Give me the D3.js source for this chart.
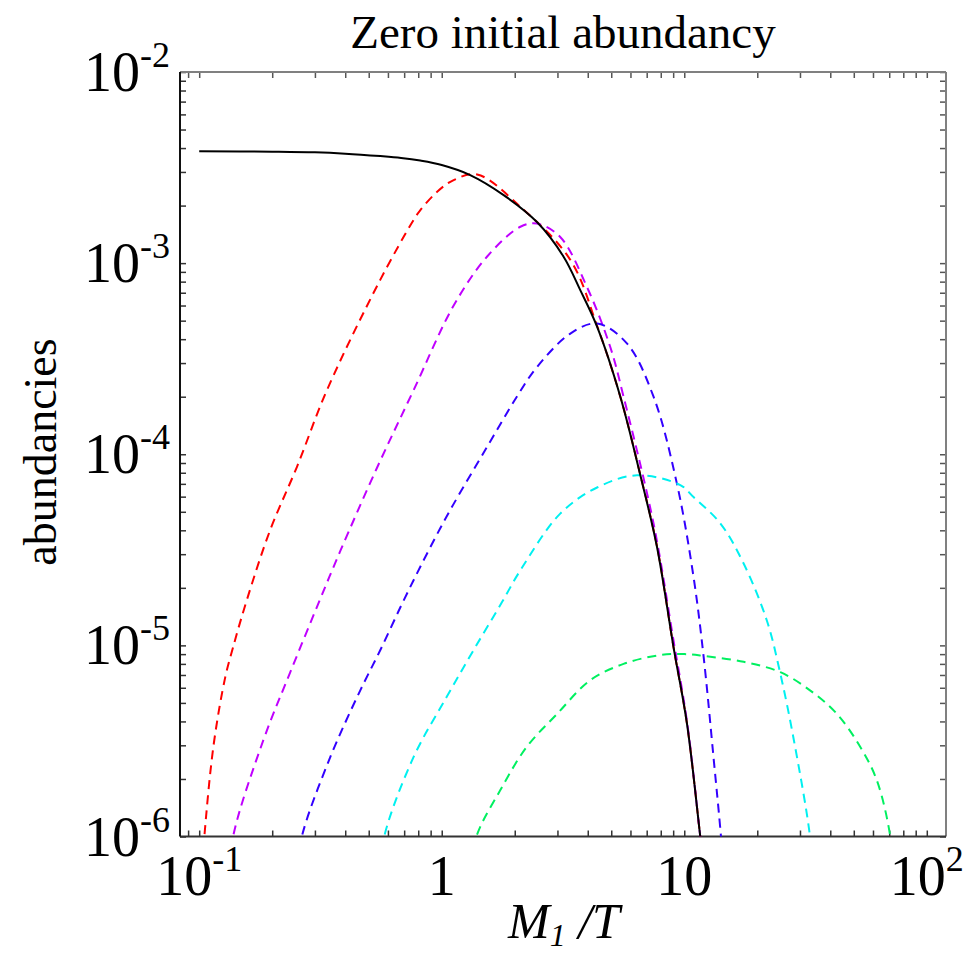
<!DOCTYPE html>
<html>
<head>
<meta charset="utf-8">
<script src="https://cdn.jsdelivr.net/npm/d3@7"></script>
<style>
  body { margin: 0; background: #fff; }
  text { font-family: "Liberation Serif", "Times New Roman", serif; fill: #000; }
</style>
</head>
<body>
<div id="chart"></div>
<script>
// data (x = M1/T, y = abundancy)
var blackX = [0.1, 0.2, 0.3, 0.4, 0.558, 0.68, 0.815, 1.0, 1.31, 1.8, 2.47, 3.18, 3.73, 4.37, 5.45, 6.59, 7.72, 9.03, 10.26, 11.64, 12.2];
var blackY = [3.85e-3, 3.83e-3, 3.8e-3, 3.74e-3, 3.63e-3, 3.55e-3, 3.44e-3, 3.26e-3, 2.89e-3, 2.27e-3, 1.64e-3, 1.08e-3, 7.2e-4, 4.65e-4, 2.0e-4, 7.76e-5, 3.27e-5, 9.8e-6, 3.9e-6, 1.0e-6, 6e-7];

var redX = [0.102, 0.105, 0.1146, 0.128, 0.138, 0.157, 0.196, 0.253, 0.336, 0.557, 0.765, 0.815, 0.96, 1.12, 1.40, 2.11, 3.39, 4.37, 5.45, 6.59, 7.72, 9.03, 10.26, 11.64, 12.2];
var redY = [6e-7, 1.0e-6, 3.0e-6, 6.8e-6, 9.8e-6, 1.72e-5, 4.0e-5, 8.6e-5, 2.16e-4, 8.15e-4, 1.68e-3, 1.89e-3, 2.37e-3, 2.72e-3, 2.91e-3, 1.97e-3, 1.04e-3, 4.7e-4, 2.0e-4, 7.8e-5, 3.3e-5, 9.8e-6, 3.9e-6, 1.0e-6, 6e-7];

var magX = [0.133, 0.138, 0.184, 0.237, 0.315, 0.381, 0.541, 0.765, 1.12, 1.536, 2.11, 2.47, 3.08, 3.97, 4.95, 5.62, 7.47, 9.03, 10.26, 11.64, 12.2];
var magY = [6e-7, 1.0e-6, 3.2e-6, 7.2e-6, 1.74e-5, 3.1e-5, 8.5e-5, 2.16e-4, 6.0e-4, 1.08e-3, 1.55e-3, 1.61e-3, 1.37e-3, 7.5e-4, 3.65e-4, 2.0e-4, 4.34e-5, 1.06e-5, 4.0e-6, 1.0e-6, 6e-7];

var blueX = [0.25, 0.265, 0.347, 0.461, 0.557, 0.686, 0.815, 0.986, 1.12, 1.536, 2.04, 2.47, 3.39, 4.37, 5.80, 7.47, 9.33, 10.92, 12.02, 13.2, 14.17, 14.6];
var blueY = [6e-7, 1.0e-6, 2.6e-6, 5.8e-6, 9.4e-6, 1.65e-5, 2.57e-5, 4.1e-5, 5.5e-5, 1.09e-4, 2.0e-4, 2.86e-4, 4.28e-4, 4.83e-4, 3.8e-4, 2.0e-4, 7.0e-5, 2.28e-5, 8.7e-6, 2.6e-6, 1.0e-6, 6e-7];

var cyanX = [0.55, 0.579, 0.765, 1.05, 1.35, 1.77, 2.11, 3.08, 4.37, 6.38, 9.63, 10.92, 14.1, 17.57, 21.9, 24.9, 28.3, 33.0, 34.0];
var cyanY = [6e-7, 1.0e-6, 2.6e-6, 5.4e-6, 9.4e-6, 1.68e-5, 2.47e-5, 4.89e-5, 6.7e-5, 7.76e-5, 6.9e-5, 5.97e-5, 4.34e-5, 2.68e-5, 1.35e-5, 7.1e-6, 3.2e-6, 1.0e-6, 6e-7];

var greenX = [1.3, 1.39, 1.74, 2.24, 2.99, 4.09, 5.62, 7.96, 10.0, 12.02, 17.57, 24.9, 33.1, 42.6, 53.2, 62.3, 70.7, 73.0];
var greenY = [6e-7, 1.0e-6, 1.74e-6, 2.94e-6, 4.38e-6, 6.56e-6, 8.0e-6, 8.9e-6, 9.0e-6, 8.8e-6, 8.2e-6, 7.24e-6, 5.8e-6, 4.38e-6, 2.94e-6, 1.96e-6, 1.0e-6, 6e-7];

var seriesNames = ["red", "magenta", "blue", "cyan", "green", "black"];
var seriesColors = ["#ff0000", "#c000ff", "#3300ff", "#00f0f0", "#00f060", "#000000"];

var xMajor = [0.1, 1, 10, 100];
var xLabels = [["10", "-1"], ["1", ""], ["10", ""], ["10", "2"]];
var yMajor = [1e-6, 1e-5, 1e-4, 1e-3, 1e-2];
var yLabels = [["10", "-6"], ["10", "-5"], ["10", "-4"], ["10", "-3"], ["10", "-2"]];

var width = 980;
var height = 955;
var plotLeft = 180, plotRight = 946, plotTop = 72, plotBottom = 836.5;

var svg = d3.select("#chart").append("svg")
  .attr("width", width)
  .attr("height", height);

var xScale = d3.scaleLog().domain([1 / 12, 120]).range([plotLeft, plotRight]);
var yScale = d3.scaleLog().domain([1e-6, 1e-2]).range([plotBottom, plotTop]);

// minor ticks 1..9 per decade
var xTicks = [];
for (var e = -2; e <= 2; e++) {
  for (var m = 1; m <= 9; m++) {
    var v = m * Math.pow(10, e);
    if (v >= 1 / 12 && v <= 120) xTicks.push(v);
  }
}
var yTicks = [];
for (var e = -6; e <= -3; e++) {
  for (var m = 1; m <= 9; m++) yTicks.push(m * Math.pow(10, e));
}
yTicks.push(1e-2);

svg.append("defs").append("clipPath").attr("id", "plotClip")
  .append("rect")
  .attr("x", plotLeft).attr("y", plotTop)
  .attr("width", plotRight - plotLeft).attr("height", plotBottom - plotTop);

/* axes with inward ticks on all four sides */
function styleAxis(g, col) {
  g.select(".domain").remove();
  g.selectAll(".tick line").attr("stroke", col).attr("stroke-width", 1.5);
  g.selectAll(".tick text").remove();
}

svg.append("g")
  .attr("transform", "translate(0," + plotBottom + ")")
  .call(d3.axisBottom(xScale).tickValues(xTicks).tickSize(-6).tickFormat(""))
  .call(g => styleAxis(g, "#333"));

svg.append("g")
  .attr("transform", "translate(0," + plotTop + ")")
  .call(d3.axisTop(xScale).tickValues(xTicks).tickSize(-6).tickFormat(""))
  .call(g => styleAxis(g, "#555"));

svg.append("g")
  .attr("transform", "translate(" + plotLeft + ",0)")
  .call(d3.axisLeft(yScale).tickValues(yTicks).tickSize(-6).tickFormat(""))
  .call(g => styleAxis(g, "#333"));

svg.append("g")
  .attr("transform", "translate(" + plotRight + ",0)")
  .call(d3.axisRight(yScale).tickValues(yTicks).tickSize(-6).tickFormat(""))
  .call(g => styleAxis(g, "#555"));

/* frame */
svg.append("line").attr("x1", plotLeft).attr("x2", plotRight).attr("y1", plotTop).attr("y2", plotTop)
  .attr("stroke", "#808080").attr("stroke-width", 2);
svg.append("line").attr("x1", plotRight).attr("x2", plotRight).attr("y1", plotTop).attr("y2", plotBottom)
  .attr("stroke", "#808080").attr("stroke-width", 2);
svg.append("line").attr("x1", plotLeft).attr("x2", plotRight).attr("y1", plotBottom).attr("y2", plotBottom)
  .attr("stroke", "#333").attr("stroke-width", 2);
svg.append("line").attr("x1", plotLeft).attr("x2", plotLeft).attr("y1", plotTop).attr("y2", plotBottom)
  .attr("stroke", "#111").attr("stroke-width", 2);

/* tick labels */
var xl = svg.append("g");
xMajor.forEach(function(v, i) {
  var t = xl.append("text")
    .attr("x", xScale(v))
    .attr("y", 895)
    .attr("text-anchor", "middle")
    .style("font-size", "56px");
  t.append("tspan").text(xLabels[i][0]);
  if (xLabels[i][1] !== "") {
    t.append("tspan").attr("dy", -24).style("font-size", "36px").text(xLabels[i][1]);
  }
});

var yl = svg.append("g");
yMajor.forEach(function(v, i) {
  var t = yl.append("text")
    .attr("x", 170)
    .attr("y", yScale(v) + 19)
    .attr("text-anchor", "end")
    .style("font-size", "56px");
  t.append("tspan").text(yLabels[i][0]);
  t.append("tspan").attr("dy", -24).style("font-size", "36px").text(yLabels[i][1]);
});

/* titles */
svg.append("text")
  .attr("x", 563).attr("y", 48)
  .attr("text-anchor", "middle")
  .style("font-size", "47px")
  .text("Zero initial abundancy");

svg.append("text")
  .attr("transform", "translate(56,452) rotate(-90)")
  .attr("text-anchor", "middle")
  .style("font-size", "46px")
  .text("abundancies");

var xt = svg.append("text")
  .attr("x", 564).attr("y", 938)
  .attr("text-anchor", "middle")
  .style("font-size", "50px")
  .style("font-style", "italic");
xt.append("tspan").text("M");
xt.append("tspan").attr("dy", 8).style("font-size", "32px").text("1");
xt.append("tspan").attr("dy", -8).text(" /T");

/* curves */
var seriesX = [redX, magX, blueX, cyanX, greenX, blackX];
var seriesY = [redY, magY, blueY, cyanY, greenY, blackY];

var line = d3.line()
  .x(d => xScale(d[0]))
  .y(d => yScale(d[1]))
  .curve(d3.curveCatmullRom.alpha(0.5));

var lines = svg.append("g").attr("clip-path", "url(#plotClip)");

seriesNames.forEach(function(name, i) {
  var pts = seriesX[i].map((x, j) => [x, seriesY[i][j]]);
  lines.append("path")
    .attr("class", "line " + name)
    .attr("d", line(pts))
    .attr("fill", "none")
    .attr("stroke", seriesColors[i])
    .attr("stroke-width", 2)
    .attr("stroke-dasharray", name === "black" ? null : "9,6");
});
</script>
</body>
</html>
